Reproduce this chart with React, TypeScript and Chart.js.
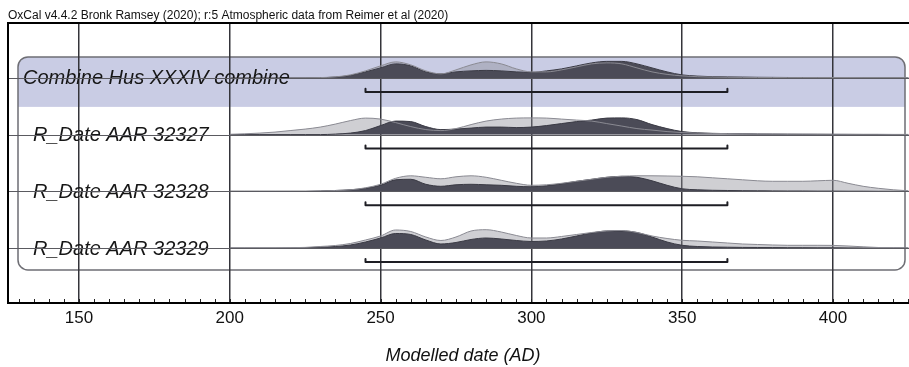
import React, { useEffect, useRef } from "react";
import { Chart, registerables } from "chart.js";

Chart.register(...registerables);

// ---------- text ----------
const HEADER = "OxCal v4.4.2 Bronk Ramsey (2020); r:5 Atmospheric data from Reimer et al (2020)";
const AXIS_TITLE = "Modelled date (AD)";
const ROW_NAMES = ["Combine Hus XXXIV combine", "R_Date AAR 32327", "R_Date AAR 32328", "R_Date AAR 32329"];
const ROW_LEVEL = [0, 1, 1, 1];

// ---------- axis ----------
const X_MIN = 126.46;
const X_MAX = 428.2;
const X_LABEL_STEP = 50;
const X_MINOR_STEP = 5;

// ---------- ranges (95.4% brackets) ----------
const RANGE_START = [245, 245, 245, 245];
const RANGE_END = [365, 365, 365, 365];

// ---------- distributions (relative probability) ----------
const YEARS = [200, 205, 210, 215, 220, 225, 230, 235, 240, 245, 250, 255, 260, 265, 270, 275, 280, 285, 290, 295, 300, 305, 310, 315, 320, 325, 330, 335, 340, 345, 350, 355, 360, 365, 370, 375, 380, 385, 390, 395, 400, 405, 410, 415, 420, 425];

const COMBINE_LIKELIHOOD = [0, 0, 0, 0, 0, 0, 0.3, 1, 3, 7, 12, 16, 13, 7, 4, 8, 13, 16, 14, 9, 6, 6, 8, 11, 14, 15, 14, 10, 6, 3.5, 2, 1.2, 0.8, 0.6, 0.5, 0.4, 0.4, 0.3, 0.3, 0.3, 0.3, 0.3, 0.2, 0.2, 0.2, 0.2];
const COMBINE_POSTERIOR = [0, 0, 0, 0, 0, 0, 0.2, 0.8, 2.5, 6, 10, 14, 12, 6, 4, 6, 7, 7.5, 7, 6, 5.5, 7, 9, 12, 15, 16.5, 16.5, 14, 10, 6, 3, 1.8, 1.2, 1, 0.8, 0.6, 0.5, 0.4, 0.3, 0.2, 0.1, 0, 0, 0, 0, 0];

const AAR32327_LIKELIHOOD = [0.3, 0.8, 1.5, 2.5, 4, 5.5, 7.5, 10.5, 14, 16.5, 15.5, 12, 8, 5, 4, 6, 10, 13.5, 15.5, 16.5, 16.7, 16.5, 15.5, 14.5, 13.5, 11, 8.5, 6, 4.5, 3, 2, 1.5, 1.2, 1, 0.8, 0.7, 0.6, 0.5, 0.5, 0.4, 0.4, 0.3, 0.3, 0.3, 0.2, 0.2];
const AAR32327_POSTERIOR = [0, 0, 0, 0, 0, 0, 0, 0.5, 1.5, 4, 9, 13.5, 13, 8, 5, 5.5, 6.5, 7.5, 7.5, 7, 7.5, 9, 11, 13, 14.5, 16.5, 16.7, 15, 10, 6, 3, 1.8, 1.2, 1, 0.8, 0.6, 0.5, 0.4, 0.3, 0.3, 0.2, 0.2, 0.1, 0.1, 0, 0];

const AAR32328_LIKELIHOOD = [0, 0, 0, 0, 0, 0, 0.3, 0.8, 1.5, 3.5, 7, 13, 15.5, 14, 12.5, 14.5, 15.5, 14, 11, 8, 6, 6.5, 8, 10, 12, 14, 15, 15.5, 15.5, 15.3, 15, 14.5, 13.5, 12.5, 11.5, 10.5, 10, 10, 10, 10.5, 11, 8, 5, 3, 1.5, 0.5];
const AAR32328_POSTERIOR = [0, 0, 0, 0, 0, 0, 0.3, 0.8, 1.5, 3, 6, 11.5, 12, 7, 5, 6.5, 7, 6.5, 6, 5, 4.5, 5.5, 7.5, 10, 12, 14, 15, 14, 10.5, 6, 2.5, 1.5, 1, 0.8, 0.6, 0.5, 0.4, 0.3, 0.3, 0.2, 0.2, 0.1, 0.1, 0, 0, 0];

const AAR32329_LIKELIHOOD = [0, 0, 0, 0, 0.3, 0.6, 1.5, 2.5, 4.5, 8, 12, 18, 16.5, 11, 7.5, 11, 17, 18.3, 16, 12.5, 10, 10, 11.5, 13.5, 15.5, 17, 17.5, 15.5, 12, 9.5, 7.7, 7, 6, 5, 4, 3.5, 3, 2.7, 2.7, 2.7, 2.6, 2, 1.2, 0.5, 0.2, 0];
const AAR32329_POSTERIOR = [0, 0, 0, 0, 0, 0.3, 0.8, 1.5, 3, 6, 10, 14.5, 13.5, 8, 4, 5.5, 8.5, 10, 9, 7.5, 6.5, 7, 9, 12, 15, 17, 17, 15.5, 11, 6, 2.7, 1.5, 1, 0.8, 0.6, 0.5, 0.4, 0.3, 0.3, 0.2, 0.2, 0.1, 0, 0, 0, 0];

const LIKELIHOODS = [COMBINE_LIKELIHOOD, AAR32327_LIKELIHOOD, AAR32328_LIKELIHOOD, AAR32329_LIKELIHOOD];
const POSTERIORS = [COMBINE_POSTERIOR, AAR32327_POSTERIOR, AAR32328_POSTERIOR, AAR32329_POSTERIOR];

// ---------- styling ----------
const FONT = "'Liberation Sans', Arial, Helvetica, sans-serif";
const Y_MIN = 0.03;
const Y_MAX = 4.968;
const PROB_SCALE = 1 / 56.7;
const BRACKET_OFFSET = 0.247;
const BRACKET_TICK = 0.055;
const LIGHT_FILL = "rgba(140,140,150,0.42)";
const LIGHT_LINE = "#8a8a92";
const DARK_FILL = "#4b4b57";
const DARK_LINE = "#3a3a44";
const BAND = "#c9cce4";

const rowBase = (i: number) => ROW_NAMES.length - i;

function buildDatasets() {
  const ds: any[] = [];
  ROW_NAMES.forEach((_, i) => {
    const base = rowBase(i);
    const L = LIKELIHOODS[i];
    const P = POSTERIORS[i];
    const lightPts = YEARS.map((x, k) => ({ x, y: base + L[k] * PROB_SCALE }));
    const darkPts = YEARS.map((x, k) => ({ x, y: base + P[k] * PROB_SCALE }));
    ds.push({
      data: lightPts, fill: { value: base }, backgroundColor: LIGHT_FILL,
      borderWidth: 0, borderColor: "rgba(0,0,0,0)", pointRadius: 0, order: 4,
      cubicInterpolationMode: "monotone",
    });
    ds.push({
      data: darkPts, fill: { value: base }, backgroundColor: DARK_FILL,
      borderWidth: 1, borderColor: DARK_LINE, pointRadius: 0, order: 3,
      cubicInterpolationMode: "monotone",
    });
    ds.push({
      data: lightPts, fill: false, borderWidth: 1, borderColor: LIGHT_LINE,
      pointRadius: 0, order: 2, cubicInterpolationMode: "monotone",
    });
    const by = base - BRACKET_OFFSET;
    ds.push({
      data: [
        { x: RANGE_START[i], y: by + BRACKET_TICK },
        { x: RANGE_START[i], y: by },
        { x: RANGE_END[i], y: by },
        { x: RANGE_END[i], y: by + BRACKET_TICK },
      ],
      fill: false, borderWidth: 2, borderColor: "#1e1e24", pointRadius: 0,
      tension: 0, order: 1, borderCapStyle: "round", borderJoinStyle: "round",
    });
  });
  return ds;
}

const oxcalPlugin = {
  id: "oxcal",
  beforeDraw(chart: any) {
    const { ctx, chartArea: a, scales } = chart;
    const y = scales.y;
    const r0 = y.getPixelForValue(rowBase(0));
    const rN = y.getPixelForValue(rowBase(ROW_NAMES.length - 1));
    const left = a.left + 10;
    const right = a.left + 897;
    const top = r0 - 21;
    const bottom = rN + 22;
    ctx.save();
    ctx.beginPath();
    ctx.roundRect(left, top, right - left, bottom - top, 10);
    ctx.clip();
    ctx.fillStyle = BAND;
    ctx.fillRect(left, top, right - left, r0 + 29 - top);
    ctx.restore();
    ctx.save();
    ctx.beginPath();
    ctx.roundRect(left, top, right - left, bottom - top, 10);
    ctx.lineWidth = 1.5;
    ctx.strokeStyle = "#6e6e74";
    ctx.stroke();
    ctx.restore();
  },
  afterDatasetsDraw(chart: any) {
    const { ctx, chartArea: a, scales } = chart;
    const y = scales.y;
    ctx.save();
    ctx.font = `italic 20px ${FONT}`;
    ctx.fillStyle = "#161616";
    ctx.textBaseline = "middle";
    ctx.textAlign = "left";
    ROW_NAMES.forEach((name, i) => {
      const py = y.getPixelForValue(rowBase(i));
      ctx.fillText(name, a.left + 15 + ROW_LEVEL[i] * 10, py + 1);
    });
    ctx.strokeStyle = "#5a5a60";
    ctx.lineWidth = 1.2;
    ROW_NAMES.forEach((_, i) => {
      const py = Math.round(y.getPixelForValue(rowBase(i))) + 0.5;
      ctx.beginPath();
      ctx.moveTo(a.left, py);
      ctx.lineTo(a.right, py);
      ctx.stroke();
    });
    ctx.restore();
  },
  afterDraw(chart: any) {
    const { ctx, chartArea: a, scales } = chart;
    const x = scales.x;
    ctx.save();
    ctx.strokeStyle = "#222";
    ctx.lineWidth = 1;
    const first = Math.ceil(X_MIN / X_MINOR_STEP) * X_MINOR_STEP;
    for (let v = first; v <= X_MAX; v += X_MINOR_STEP) {
      const px = Math.round(x.getPixelForValue(v)) + 0.5;
      ctx.beginPath();
      ctx.moveTo(px, a.bottom);
      ctx.lineTo(px, a.bottom - 4);
      ctx.stroke();
    }
    ctx.strokeStyle = "#000";
    ctx.lineWidth = 2;
    ctx.strokeRect(a.left, a.top, a.right - a.left, a.bottom - a.top);
    ctx.restore();
  },
};

export default function App() {
  const ref = useRef<HTMLCanvasElement>(null);
  useEffect(() => {
    document.body.style.margin = "0";
    document.body.style.overflow = "hidden";
    const canvas = ref.current!;
    const chart = new Chart(canvas, {
      type: "line",
      data: { datasets: buildDatasets() },
      options: {
        animation: false,
        responsive: false,
        devicePixelRatio: 1,
        layout: { padding: { left: 8, right: 2, top: 0, bottom: 0 } },
        plugins: {
          legend: { display: false },
          tooltip: { enabled: false },
          title: {
            display: true,
            text: HEADER,
            align: "start",
            color: "#111",
            font: { family: FONT, size: 12, weight: "normal" },
            padding: { top: 8, bottom: 0.6 },
          },
        },
        scales: {
          x: {
            type: "linear",
            position: "bottom",
            min: X_MIN,
            max: X_MAX,
            z: 1,
            border: { display: false },
            grid: {
              drawTicks: false,
              lineWidth: 1.5,
              color: (c: any) =>
                c.tick && c.tick.value % X_LABEL_STEP === 0 ? "#34343a" : "rgba(0,0,0,0)",
            },
            ticks: {
              stepSize: X_MINOR_STEP,
              maxTicksLimit: 1000,
              autoSkip: false,
              maxRotation: 0,
              includeBounds: false,
              padding: 5,
              color: "#111",
              font: { family: FONT, size: 17 },
              callback: (v: any) => (Number(v) % X_LABEL_STEP === 0 ? String(v) : ""),
            },
            title: {
              display: true,
              text: AXIS_TITLE,
              color: "#111",
              font: { family: FONT, size: 18, style: "italic" },
              padding: { top: 12, bottom: 0 },
            },
          },
          y: { type: "linear", display: false, min: Y_MIN, max: Y_MAX },
        },
      },
      plugins: [oxcalPlugin],
    } as any);
    return () => chart.destroy();
  }, []);
  return (
    <div style={{ width: 920, height: 367 }}>
      <canvas ref={ref} width={920} height={367} style={{ display: "block", width: 920, height: 367 }} />
    </div>
  );
}
